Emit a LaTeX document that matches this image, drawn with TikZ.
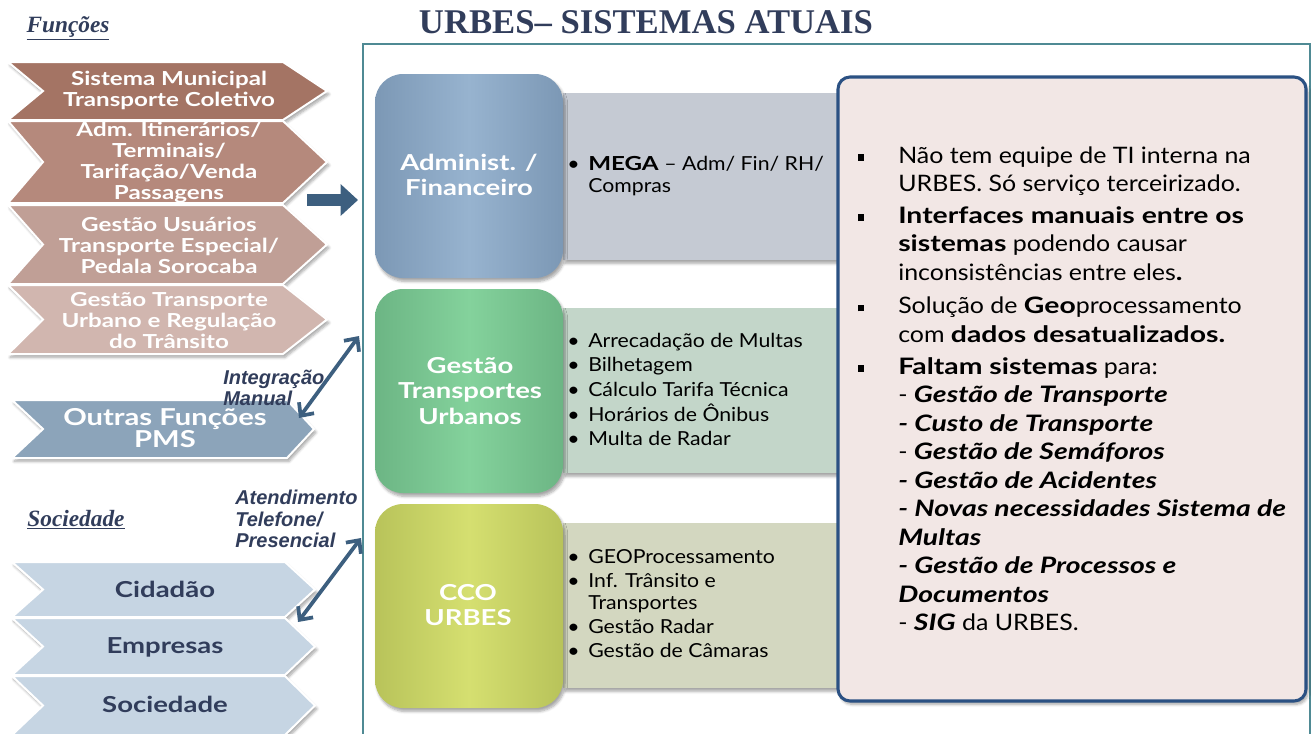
\documentclass[tikz,border=0pt]{standalone}
\usepackage{fontspec}
\setmainfont{Lato}[FakeStretch=1.1, BoldFeatures={FakeStretch=1.25}, BoldItalicFeatures={FakeStretch=1.25}]
\newfontfamily\serifb{Liberation Serif}
\newfontfamily\arialf{Liberation Sans}
\usetikzlibrary{arrows.meta,shadows.blur}
\definecolor{navy}{HTML}{313D5B}
\definecolor{c1}{HTML}{A47464}
\definecolor{c2}{HTML}{B5897C}
\definecolor{c3}{HTML}{C09F96}
\definecolor{c4}{HTML}{D1B6AF}
\definecolor{c5}{HTML}{8CA4BA}
\definecolor{soc}{HTML}{C6D5E3}
\definecolor{arrowc}{HTML}{3D5F7F}
\definecolor{framec}{HTML}{4F8A94}
\definecolor{blueA}{HTML}{7C98B5}
\definecolor{blueB}{HTML}{97B3CF}
\definecolor{greenA}{HTML}{6CB584}
\definecolor{greenB}{HTML}{84D29C}
\definecolor{yelA}{HTML}{B8C35A}
\definecolor{yelB}{HTML}{D5DF70}
\definecolor{rA}{HTML}{C5CAD3}
\definecolor{rB}{HTML}{C3D6C9}
\definecolor{rC}{HTML}{D3D7C0}
\definecolor{boxfill}{HTML}{F2E7E5}
\definecolor{boxline}{HTML}{2B5183}
\newcommand\chev[7]{%
  \path[fill=#7, draw=white, line width=1.5pt, softshadow]
    (#3,#1) -- (#5,#1) -- (#6,{(#1+#2)/2}) -- (#5,#2) -- (#3,#2) -- (#4,{(#1+#2)/2}) -- cycle;}
\newcommand\sqbul{\llap{\rule[1.8pt]{5pt}{5pt}\hspace{25.5pt}}}
\newcommand\dotbul{\llap{\textbullet\hspace{6.5pt}}}
\begin{document}
\begin{tikzpicture}[x=0.75pt,y=-0.75pt,
  every node/.style={inner sep=0pt},
  softshadow/.style={blur shadow={shadow blur steps=6, shadow xshift=1.5pt, shadow yshift=-2.5pt, shadow opacity=35}},
  chevtext/.style={text=white, font=\bfseries\fontsize{14.5}{15.75}\selectfont, align=center},
  outtext/.style={text=white, font=\bfseries\fontsize{17.5}{16.5}\selectfont, align=center},
  soctext/.style={text=navy, font=\bfseries\fontsize{16.5}{18}\selectfont},
  sqtext/.style={text=white, font=\bfseries\fontsize{16.5}{19}\selectfont, align=center},
  bultext/.style={anchor=base west, font=\fontsize{14.5}{16.5}\selectfont},
  lbl/.style={font=\arialf\bfseries\itshape\fontsize{15}{15.5}\selectfont, text=navy, align=left, anchor=north west},
  sectitle/.style={font=\serifb\bfseries\itshape\fontsize{17.5}{20}\selectfont, text=navy},
  dblarrow/.style={draw=arrowc, line width=2.8pt, {Straight Barb[length=7.5pt,width=14pt]}-{Straight Barb[length=7.5pt,width=14pt]}}]
\useasboundingbox (0,0) rectangle (1312,733);

% frame
\draw[framec, line width=2pt] (363,745) -- (363,44) -- (1310,44) -- (1310,745);

% title
\node[font=\serifb\bfseries\fontsize{26}{28}\selectfont, text=navy] (title) at (646,22) {URBES– SISTEMAS ATUAIS};

% section titles
\node[sectitle] (funcoes) at (68,28) {\underline{Funções}};
\node[sectitle] (sociedade) at (76,520) {\underline{Sociedade}};

% left chevrons
\chev{62}{120}{8}{43}{283}{327}{c1}
\chev{121}{203}{8}{43}{283}{327}{c2}
\chev{205}{284}{8}{43}{283}{327}{c3}
\chev{285}{354}{8}{43}{283}{327}{c4}
\chev{400}{458}{12}{43}{287}{314}{c5}
\chev{562}{617}{12}{43}{285}{315}{soc}
\chev{618}{675}{12}{43}{285}{315}{soc}
\chev{676}{735}{12}{43}{285}{315}{soc}

\node[chevtext] (f1) at (169,90) {Sistema Municipal\\Transporte Coletivo};
\node[chevtext] (f2) at (169,163) {Adm. Itinerários/\\Terminais/\\Tarifação/Venda\\Passagens};
\node[chevtext] (f3) at (169,245) {Gestão Usuários\\Transporte Especial/\\Pedala Sorocaba};
\node[chevtext] (f4) at (169,320) {Gestão Transporte\\Urbano e Regulação\\do Trânsito};
\node[outtext] (f5) at (165,428) {Outras Funções\\PMS};
\node[soctext] (s1) at (165,589) {Cidadão};
\node[soctext] (s2) at (165,647) {Empresas};
\node[soctext] (s3) at (165,704) {Sociedade};

% right-hand light rectangles
\fill[rA, softshadow] (563,93) rectangle (845,260);
\fill[rB, softshadow] (563,308) rectangle (845,473);
\fill[rC, softshadow] (563,523) rectangle (845,688);

% rounded squares
\shade[left color=blueA, right color=blueA, middle color=blueB, rounded corners=21pt, softshadow] (375,74) rectangle (563,278);
\shade[left color=greenA, right color=greenA, middle color=greenB, rounded corners=21pt, softshadow] (375,289) rectangle (563,493);
\shade[left color=yelA, right color=yelA, middle color=yelB, rounded corners=21pt, softshadow] (375,504) rectangle (563,708);

\node[sqtext] (adm) at (469,175) {Administ. /\\Financeiro};
\node[sqtext] (gtu) at (470,391) {Gestão\\Transportes\\Urbanos};
\node[sqtext] (cco) at (468,605) {CCO\\URBES};

% bullet lists
\node[bultext] (l1) at (588,170) {\begin{tabular}[t]{@{}l@{}}
\dotbul\textbf{MEGA} – Adm/ Fin/ RH/\\
Compras
\end{tabular}};
\node[bultext, font=\fontsize{14.5}{18.5}\selectfont] (l2) at (588,347) {\begin{tabular}[t]{@{}l@{}}
\dotbul Arrecadação de Multas\\
\dotbul Bilhetagem\\
\dotbul Cálculo Tarifa Técnica\\
\dotbul Horários de Ônibus\\
\dotbul Multa de Radar
\end{tabular}};
\node[bultext] (l3) at (588,563) {\begin{tabular}[t]{@{}l@{}}
\dotbul GEOProcessamento\\[2pt]
\dotbul Inf. Trânsito e\\
Transportes\\[1pt]
\dotbul Gestão Radar\\[2pt]
\dotbul Gestão de Câmaras
\end{tabular}};

% right box
\draw[boxline, line width=2.3pt, fill=boxfill, rounded corners=9pt, softshadow] (838,77) rectangle (1306,701);
\node[anchor=base west, font=\fontsize{17}{21.4}\selectfont] (notes) at (898,163) {\begin{tabular}[t]{@{}l@{}}
\sqbul Não tem equipe de TI interna na\\
URBES. Só serviço terceirizado.\\[2.5pt]
\sqbul\textbf{Interfaces manuais entre os}\\
\textbf{sistemas} podendo causar\\
inconsistências entre eles\textbf{.}\\[3.5pt]
\sqbul Solução de \textbf{Geo}processamento\\
com \textbf{dados desatualizados.}\\[2.5pt]
\sqbul\textbf{Faltam sistemas} para:\\
- \textbf{\itshape Gestão de Transporte}\\
\textbf{\itshape - Custo de Transporte}\\
- \textbf{\itshape Gestão de Semáforos}\\
\textbf{\itshape - Gestão de Acidentes}\\
\textbf{\itshape - Novas necessidades Sistema de}\\
\textbf{\itshape Multas}\\
\textbf{\itshape - Gestão de Processos e}\\
\textbf{\itshape Documentos}\\
- \textbf{\itshape SIG} da URBES.
\end{tabular}};

% arrows
\coordinate (ma1) at (307,200);
\coordinate (ma2) at (358,200);
\draw[arrowc, line width=9pt, -{Triangle[length=13pt,width=23pt]}] (ma1) -- (ma2);

\coordinate (ia1) at (299,418);
\coordinate (ia2) at (359,336);
\draw[dblarrow] (ia1) -- (ia2);
\coordinate (aa1) at (298,622);
\coordinate (aa2) at (361,538);
\draw[dblarrow] (aa1) -- (aa2);

\node[lbl] (intman) at (223,370) {Integração\\Manual};
\node[lbl, font=\arialf\bfseries\itshape\fontsize{15}{16}\selectfont] (atend) at (235,490) {Atendimento\\Telefone/\\Presencial};
\end{tikzpicture}
\end{document}
